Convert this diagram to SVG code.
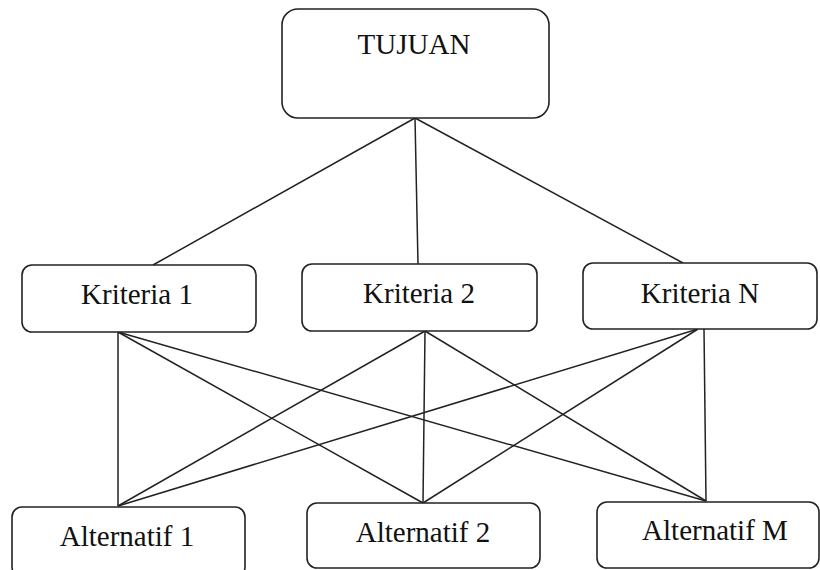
<svg xmlns="http://www.w3.org/2000/svg" width="820" height="570" viewBox="0 0 820 570">
<style>
.box{fill:#fff;stroke:#222;stroke-width:1.6}
text{font-family:'Liberation Serif','Times New Roman',Times,serif;font-size:29px;fill:#111;text-anchor:middle}
.ln{stroke:#222;stroke-width:1.5;fill:none}
</style>
<rect width="820" height="570" fill="#fff"/>
<g id="connectors">
<line class="ln" x1="415" y1="118" x2="153" y2="265"/>
<line class="ln" x1="415" y1="118" x2="418" y2="264"/>
<line class="ln" x1="415" y1="118" x2="683" y2="263"/>
<line class="ln" x1="118" y1="332" x2="118" y2="506"/>
<line class="ln" x1="118" y1="332" x2="423" y2="503"/>
<line class="ln" x1="118" y1="332" x2="706" y2="501"/>
<line class="ln" x1="425" y1="331" x2="118" y2="506"/>
<line class="ln" x1="425" y1="331" x2="423" y2="503"/>
<line class="ln" x1="425" y1="331" x2="706" y2="501"/>
<line class="ln" x1="698" y1="329" x2="118" y2="506"/>
<line class="ln" x1="698" y1="329" x2="423" y2="503"/>
<line class="ln" x1="704" y1="329" x2="706" y2="501"/>
</g>
<g id="tujuan">
<rect class="box" x="282" y="9" width="267" height="109" rx="16"/>
<text x="414" y="54">TUJUAN</text>
</g>
<g id="kriteria1">
<rect class="box" x="22" y="265" width="234" height="67" rx="10"/>
<text x="137" y="304">Kriteria 1</text>
</g>
<g id="kriteria2">
<rect class="box" x="302" y="264" width="235" height="67" rx="10"/>
<text x="419" y="303">Kriteria 2</text>
</g>
<g id="kriterian">
<rect class="box" x="583" y="263" width="234" height="66" rx="10"/>
<text x="700" y="303">Kriteria N</text>
</g>
<g id="alternatif1">
<rect class="box" x="12" y="507" width="233" height="70" rx="10"/>
<text x="127" y="546">Alternatif 1</text>
</g>
<g id="alternatif2">
<rect class="box" x="307" y="503" width="233" height="65" rx="10"/>
<text x="423" y="542">Alternatif 2</text>
</g>
<g id="alternatifm">
<rect class="box" x="597" y="502" width="222" height="66" rx="10"/>
<text x="715" y="540">Alternatif M</text>
</g>
</svg>
